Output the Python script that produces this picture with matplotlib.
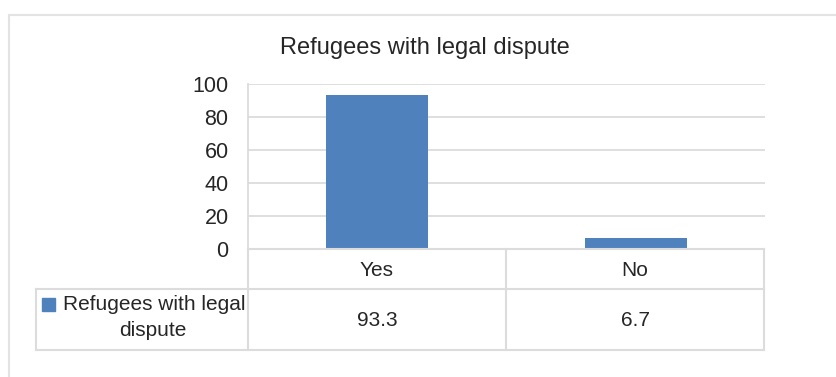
import matplotlib.pyplot as plt
from matplotlib.patches import Rectangle
from matplotlib.lines import Line2D

plt.rcParams['font.family'] = ['Liberation Sans', 'DejaVu Sans']

categories = ['Yes', 'No']
values = [93.3, 6.7]
series_name = 'Refugees with legal\ndispute'
title = 'Refugees with legal dispute'

W, H = 836, 377
bar_color = '#4f81bd'
grid_color = '#d9d9d9'
text_color = '#262626'
fs = 15

fig = plt.figure(figsize=(W / 100, H / 100), dpi=100)


def fx(px):
    return px / W


def fy(py):
    return 1 - py / H


# outer chart frame
fig.patches.append(Rectangle((fx(9), fy(400)), fx(900), fy(15) - fy(400),
                             transform=fig.transFigure, fill=False,
                             edgecolor='#e3e3e3', linewidth=1.5))

ax = fig.add_axes([fx(248), fy(249), fx(765) - fx(248), fy(84) - fy(249)])
x = range(len(categories))
ax.bar(x, values, width=0.395, color=bar_color, zorder=3)
ax.set_xlim(-0.5, len(categories) - 0.5)
ax.set_ylim(0, 100)
ax.set_yticks(range(0, 101, 20))
ax.yaxis.grid(True, color=grid_color, linewidth=1.2, zorder=0)
ax.set_xticks([])
ax.tick_params(axis='y', length=0, labelsize=15.5, labelcolor=text_color, pad=14)
for s in ['top', 'right', 'bottom']:
    ax.spines[s].set_visible(False)
ax.spines['left'].set_color(grid_color)
ax.spines['left'].set_linewidth(1.2)

fig.text(fx(425), fy(48), title, ha='center', va='center', fontsize=17, color=text_color)

# data table
lc = '#dcdcdc'
lw = 1.5
col_edges = [248, 506, 764]
rows = [249, 289, 350]
for py in rows:
    x0 = 248 if py == 249 else 36
    fig.lines.append(Line2D([fx(x0), fx(764)], [fy(py), fy(py)],
                            transform=fig.transFigure, color=lc, linewidth=lw))
for px in col_edges:
    fig.lines.append(Line2D([fx(px), fx(px)], [fy(249), fy(350)],
                            transform=fig.transFigure, color=lc, linewidth=lw))
fig.lines.append(Line2D([fx(36), fx(36)], [fy(289), fy(350)],
                        transform=fig.transFigure, color=lc, linewidth=lw))

for i, (cat, val) in enumerate(zip(categories, values)):
    cx = (col_edges[i] + col_edges[i + 1]) / 2
    fig.text(fx(cx), fy(270), cat, ha='center', va='center', fontsize=fs, color=text_color)
    fig.text(fx(cx), fy(320), f'{val:g}', ha='center', va='center', fontsize=fs, color=text_color)

fig.patches.append(Rectangle((fx(42), fy(311)), fx(13), fy(298) - fy(311),
                             transform=fig.transFigure, color=bar_color))
first, second = series_name.split('\n')
fig.text(fx(63), fy(305), first, ha='left', va='center', fontsize=fs, color=text_color)
fig.text(fx(153), fy(331), second, ha='center', va='center', fontsize=fs, color=text_color)

fig.savefig('out.png', dpi=100, facecolor='white')
